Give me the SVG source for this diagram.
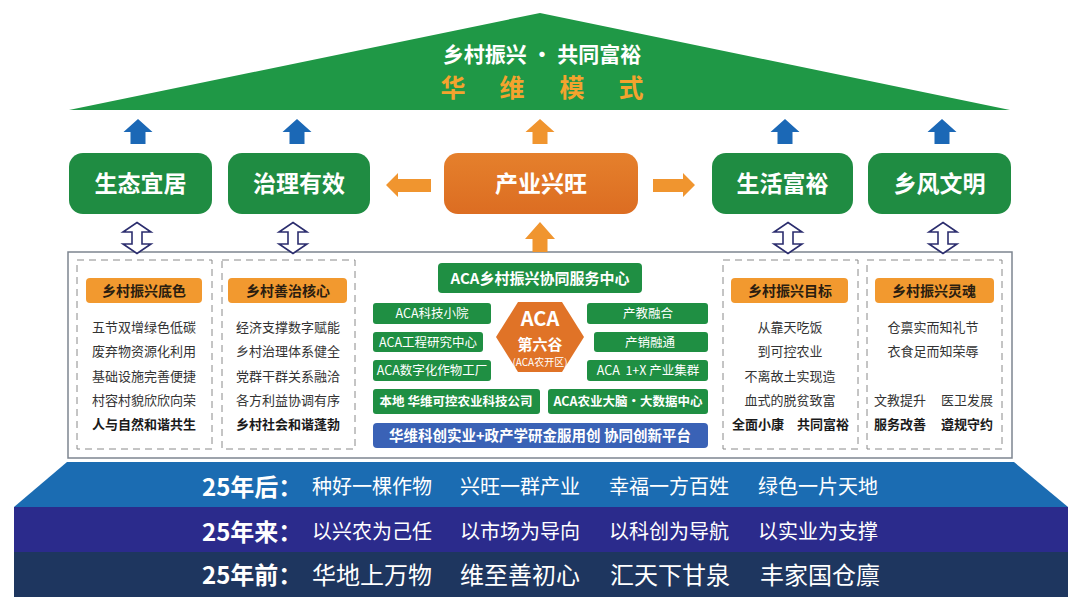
<svg xmlns="http://www.w3.org/2000/svg" width="1080" height="605" viewBox="0 0 1080 605">
<defs>
<style>
text{font-family:"Noto Sans CJK SC","Noto Sans",sans-serif;}
.gbox{fill:#1f8c42;}
.gt{fill:#fff;font-size:23px;font-weight:700;text-anchor:middle;}
.obox{fill:#e27627;}
.lab{fill:#f2992f;}
.labt{fill:#2a1d10;font-size:14px;font-weight:700;text-anchor:middle;}
.body{fill:#333;font-size:13px;text-anchor:middle;}
.bold{fill:#1a1a1a;font-weight:700;}
.dash{fill:none;stroke:#8a8a8a;stroke-width:1;stroke-dasharray:7 5;}
.cg{fill:#1f8f43;}
.ct{fill:#fff;font-size:12.5px;text-anchor:middle;}
.ctb{fill:#fff;font-size:12.5px;font-weight:700;text-anchor:middle;}
.barT{fill:#fff;font-size:24px;font-weight:700;}
.barP{fill:#fff;font-size:20px;}
.barP3{fill:#fff;font-size:24px;}
.blueUp{fill:#1b68b6;}
.orgA{fill:#f0952f;}
.dbl{fill:#fff;stroke:#2b2d6e;stroke-width:1.6;stroke-linejoin:miter;}
</style>
<path id="up" d="M0,0 L14.5,13 L7.5,13 L7.5,25 L-7.5,25 L-7.5,13 L-14.5,13 Z"/>
<path id="dblA" d="M0,-15.5 L14,-6 L5,-6 L5,6 L14,6 L0,15.5 L-14,6 L-5,6 L-5,-6 L-14,-6 Z"/>
<linearGradient id="og" x1="0" y1="0" x2="0" y2="1">
<stop offset="0" stop-color="#e5802c"/>
<stop offset="1" stop-color="#dc6d22"/>
</linearGradient>
</defs>
<rect width="1080" height="605" fill="#fff"/>

<g id="roof">
<polygon points="69,110 540,13 1010,110" fill="#1f9846"/>
<text x="542" y="62" fill="#fff" font-size="21" font-weight="700" text-anchor="middle">乡村振兴 · 共同富裕</text>
<g fill="#f4a32e" font-size="25" font-weight="700" text-anchor="middle">
<text x="453" y="97">华</text><text x="512" y="97">维</text><text x="572" y="97">模</text><text x="631" y="97">式</text>
</g>
</g>

<g id="bands">
<polygon points="67,462 1014,462 1068,507 14,507" fill="#1b6cb2"/>
<rect x="14" y="507" width="1054" height="45" fill="#2b2b8c"/>
<rect x="14" y="552" width="1054" height="45" fill="#1e365f"/>
<text class="barT" x="202" y="496">25年后：</text>
<text class="barP" x="312" y="494">种好一棵作物</text>
<text class="barP" x="460" y="494">兴旺一群产业</text>
<text class="barP" x="609" y="494">幸福一方百姓</text>
<text class="barP" x="758" y="494">绿色一片天地</text>
<text class="barT" x="202" y="541">25年来：</text>
<text class="barP" x="312" y="539">以兴农为己任</text>
<text class="barP" x="460" y="539">以市场为导向</text>
<text class="barP" x="609" y="539">以科创为导航</text>
<text class="barP" x="758" y="539">以实业为支撑</text>
<text class="barT" x="202" y="584">25年前：</text>
<text class="barP3" x="312" y="584">华地上万物</text>
<text class="barP3" x="460" y="584">维至善初心</text>
<text class="barP3" x="610" y="584">汇天下甘泉</text>
<text class="barP3" x="760" y="584">丰家国仓廪</text>
</g>

<g id="panel">
<rect x="68" y="252" width="944" height="206" fill="#fff" stroke="#7d8590" stroke-width="1.5"/>
<rect class="dash" x="77" y="260" width="135" height="189"/>
<rect class="dash" x="222" y="260" width="133" height="189"/>
<rect class="dash" x="723" y="260" width="135" height="189"/>
<rect class="dash" x="867" y="260" width="135" height="189"/>
</g>

<g id="col1">
<rect class="lab" x="86" y="278" width="116" height="25" rx="4"/>
<text class="labt" x="144" y="295.5">乡村振兴底色</text>
<text class="body" x="144" y="332">五节双增绿色低碳</text>
<text class="body" x="144" y="356">废弃物资源化利用</text>
<text class="body" x="144" y="381">基础设施完善便捷</text>
<text class="body" x="144" y="405">村容村貌欣欣向荣</text>
<text class="body bold" x="144" y="429">人与自然和谐共生</text>
</g>
<g id="col2">
<rect class="lab" x="228" y="278" width="119" height="25" rx="4"/>
<text class="labt" x="288" y="295.5">乡村善治核心</text>
<text class="body" x="288" y="332">经济支撑数字赋能</text>
<text class="body" x="288" y="356">乡村治理体系健全</text>
<text class="body" x="288" y="381">党群干群关系融洽</text>
<text class="body" x="288" y="405">各方利益协调有序</text>
<text class="body bold" x="288" y="429">乡村社会和谐蓬勃</text>
</g>
<g id="col3">
<rect class="lab" x="731" y="278" width="117" height="25" rx="4"/>
<text class="labt" x="790" y="295.5">乡村振兴目标</text>
<text class="body" x="790" y="332">从靠天吃饭</text>
<text class="body" x="790" y="356">到可控农业</text>
<text class="body" x="790" y="381">不离故土实现造</text>
<text class="body" x="790" y="405">血式的脱贫致富</text>
<text class="body bold" x="758" y="429">全面小康</text>
<text class="body bold" x="823" y="429">共同富裕</text>
</g>
<g id="col4">
<rect class="lab" x="875" y="278" width="119" height="25" rx="4"/>
<text class="labt" x="934" y="295.5">乡村振兴灵魂</text>
<text class="body" x="933" y="332">仓禀实而知礼节</text>
<text class="body" x="933" y="356">衣食足而知荣辱</text>
<text class="body" x="900" y="405">文教提升</text>
<text class="body" x="967" y="405">医卫发展</text>
<text class="body bold" x="900" y="429">服务改善</text>
<text class="body bold" x="967" y="429">遵规守约</text>
</g>

<g id="center">
<rect class="cg" x="438" y="263" width="204" height="30" rx="4"/>
<text x="540" y="283.5" fill="#fff" font-size="15" font-weight="700" text-anchor="middle">ACA乡村振兴协同服务中心</text>
<rect class="cg" x="373" y="303" width="118" height="21" rx="3"/>
<text class="ct" x="432" y="318">ACA科技小院</text>
<rect class="cg" x="373" y="332" width="110" height="20" rx="3"/>
<text class="ct" x="428" y="346.5">ACA工程研究中心</text>
<rect class="cg" x="373" y="360" width="118" height="21" rx="3"/>
<text class="ct" x="432" y="375">ACA数字化作物工厂</text>
<rect class="cg" x="587" y="303" width="121" height="21" rx="3"/>
<text class="ct" x="648" y="318">产教融合</text>
<rect class="cg" x="594" y="332" width="114" height="20" rx="3"/>
<text class="ct" x="650" y="346.5">产销融通</text>
<rect class="cg" x="587" y="360" width="121" height="21" rx="3"/>
<text class="ct" x="648" y="375" style="white-space:pre">ACA  1+X 产业集群</text>
<rect class="cg" x="373" y="389" width="167" height="25" rx="3"/>
<text class="ctb" x="456" y="406">本地 华维可控农业科技公司</text>
<rect class="cg" x="548" y="389" width="160" height="25" rx="3"/>
<text class="ctb" x="628" y="406">ACA农业大脑·大数据中心</text>
<rect x="373" y="423" width="335" height="25" rx="4" fill="#3a62b6"/>
<text x="540" y="441" fill="#fff" font-size="14.5" font-weight="700" text-anchor="middle">华维科创实业+政产学研金服用创 协同创新平台</text>
</g>

<g id="hexagon">
<polygon points="496,337 518,302 562,302 584,337 562,372 518,372" fill="#e07327"/>
<text x="540" y="326" fill="#fff" font-size="20" font-weight="700" text-anchor="middle">ACA</text>
<text x="540" y="350" fill="#fff" font-size="15" font-weight="700" text-anchor="middle">第六谷</text>
<text x="540" y="366" fill="#fff" font-size="10" text-anchor="middle">(ACA农开区)</text>
</g>

<g id="n-shengtai"><rect class="gbox" x="69" y="153" width="143" height="61" rx="14"/><text class="gt" x="140.5" y="192">生态宜居</text></g>
<g id="n-zhili"><rect class="gbox" x="228" y="153" width="142" height="61" rx="14"/><text class="gt" x="299" y="192">治理有效</text></g>
<g id="n-chanye"><rect x="444" y="153" width="194" height="61" rx="14" fill="url(#og)"/><text class="gt" x="541" y="192">产业兴旺</text></g>
<g id="n-shenghuo"><rect class="gbox" x="712" y="153" width="141" height="61" rx="14"/><text class="gt" x="782.5" y="192">生活富裕</text></g>
<g id="n-xiangfeng"><rect class="gbox" x="868" y="153" width="143" height="61" rx="14"/><text class="gt" x="939.5" y="192">乡风文明</text></g>

<g id="connectors">
<use href="#up" class="blueUp" x="138" y="119"/>
<use href="#up" class="blueUp" x="297" y="119"/>
<use href="#up" class="blueUp" x="785" y="119"/>
<use href="#up" class="blueUp" x="942" y="119"/>
<use href="#up" class="orgA" x="540" y="119"/>
<path class="orgA" d="M540,222 L555,239 L547.5,239 L547.5,252 L532.5,252 L532.5,239 L525,239 Z"/>
<path class="orgA" d="M386,185 L398,173 L398,179 L431,179 L431,192 L398,192 L398,197 Z"/>
<path class="orgA" d="M695,185 L683,173 L683,179 L653,179 L653,192 L683,192 L683,197 Z"/>
<use href="#dblA" class="dbl" x="137" y="238"/>
<use href="#dblA" class="dbl" x="293" y="238"/>
<use href="#dblA" class="dbl" x="788" y="238"/>
<use href="#dblA" class="dbl" x="943" y="238"/>
</g>
</svg>
